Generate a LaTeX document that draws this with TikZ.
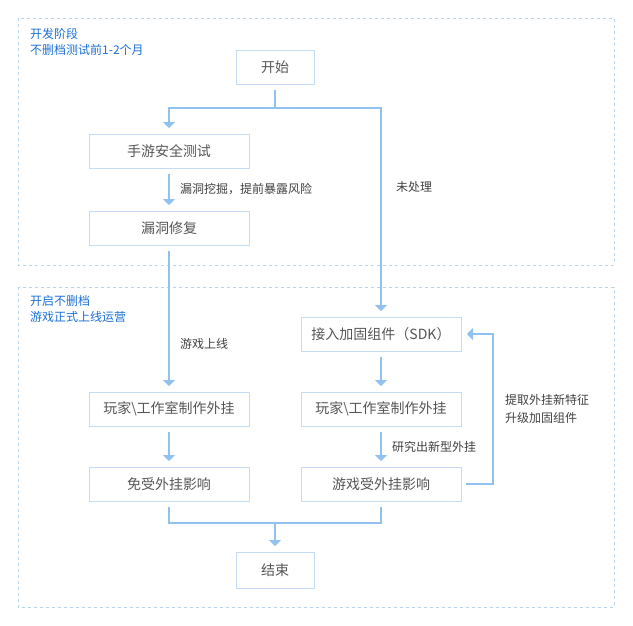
\documentclass[tikz,border=0pt]{standalone}
\usepackage{fontspec}
\setmainfont{Noto Sans CJK SC}
\usetikzlibrary{positioning,
calc,
arrows.meta}
\definecolor{lineblue}{HTML}{91C1F0}
\definecolor{boxblue}{HTML}{C4DCF4}
\definecolor{frameblue}{HTML}{B8D2F2}
\definecolor{titleblue}{HTML}{1B6FD6}
\definecolor{textgray}{HTML}{555555}
\tikzstyle{Step} = [
draw=boxblue,
line width=0.8pt,
minimum width=160pt,
minimum height=34pt,
inner sep=0pt,
outer sep=0pt,
text=textgray,
font=\fontsize{14}{16}\selectfont
]
\tikzstyle{Arrow} = [
draw=lineblue,
line width=2pt,
-{Triangle[width=12pt,length=6pt]},
shorten <= 6pt, shorten >= 6pt
]
\tikzstyle{Line} = [
draw=lineblue,
line width=2pt,
shorten <= 6pt, shorten >= 6pt
]
\tikzstyle{Note} = [
inner sep=0pt,
text=black!75,
font=\fontsize{12}{18}\selectfont,
align=left
]
\tikzstyle{Frame} = [
draw=frameblue,
line width=0.8pt,
dash pattern=on 3pt off 3pt
]
\tikzstyle{Title} = [
inner sep=0pt,
text=titleblue,
font=\fontsize{12}{16}\selectfont,
align=left
]

\begin{document}
\begin{tikzpicture}[x=1pt, y=-1pt]
            \useasboundingbox (0,0) rectangle (633,625);
            % stages
            \draw[Frame] (18,18) rectangle (614,265);
            \draw[Frame] (18,287) rectangle (614,607);
            \node[Title, anchor=north west] (t1) at (30,28) {开发阶段\\不删档测试前1-2个月};
            \node[Title, anchor=north west] (t2) at (30,295) {开启不删档\\游戏正式上线运营};

            \node [Step, minimum width=78pt] (start) at (275,67) {开始};
            \node [Step] (test) at (169,151) {手游安全测试};
            \node [Step, below =43pt of test] (fix) {漏洞修复};
            \node [Step, below =147pt of fix] (cheatL) {玩家\textbackslash 工作室制作外挂};
            \node [Step, below =41pt of cheatL] (safe) {免受外挂影响};
            \node [Step, right =52pt of cheatL] (cheatR) {玩家\textbackslash 工作室制作外挂};
            \node [Step, above =41pt of cheatR] (sdk) {接入加固组件（SDK）};
            \node [Step, below =41pt of cheatR] (hit) {游戏受外挂影响};
            \coordinate (mid) at ($(safe.south)!0.5!(hit.south)$);
            \coordinate (join) at ($(mid)+(0,22)$);
            \node [Step, minimum width=78pt, minimum height=36pt, below =51pt of mid] (end) {结束};
            \coordinate (fork) at ($(start.south)+(0,24)$);
            \coordinate (fb) at ($(hit.east)+(32,0)$);

            \draw[Line, shorten >=0pt] (start) -- (fork);
            \draw[Arrow, shorten <=0pt] (fork) -| (test);
            \draw[Arrow, shorten <=0pt] (fork) -| node[Note, pos=0.69, right=14pt] {未处理} (sdk);
            \draw[Arrow] (test) -- node[Note, midway, right=10pt] {漏洞挖掘，提前暴露风险} (fix);
            \draw[Arrow] (fix) -- node[Note, pos=0.67, right=10pt] {游戏上线} (cheatL);
            \draw[Arrow] (cheatL) -- (safe);
            \draw[Arrow] (sdk) -- (cheatR);
            \draw[Arrow] (cheatR) -- node[Note, midway, right=10pt] {研究出新型外挂} (hit);
            \draw[Arrow, shorten <=5pt] (hit.east) -- (fb) |- node[Note, pos=0.25, right=11pt] {提取外挂新特征\\升级加固组件} (sdk.east);
            \draw[Line] (safe.south) |- (join) -| (hit.south);
            \draw[Arrow, shorten <=0pt] (join) -- (end);
        \end{tikzpicture}
\end{document}
